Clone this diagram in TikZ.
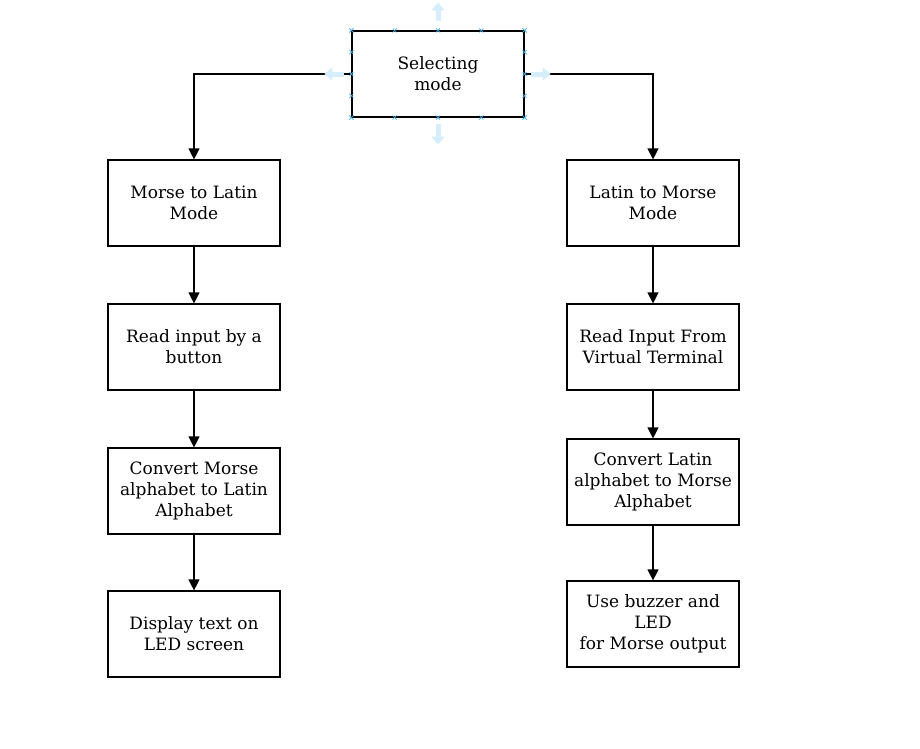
\documentclass[tikz,border=0pt]{standalone}
\usepackage{fontspec}
\setmainfont{DejaVu Serif}
\usetikzlibrary{arrows.meta,positioning,calc,shapes.misc}
\definecolor{ink}        {HTML}{000000}
\definecolor{handleblue} {HTML}{D6EDFC}
\definecolor{pointblue}  {HTML}{45AEE8}
\tikzset{
  stepbox/.style  ={draw=ink, fill=white, line width=1.2pt,
                    minimum width=172pt, minimum height=86pt,
                    align=center, inner sep=2pt,
                    font=\fontsize{17}{21}\selectfont},
  flowarr/.style  ={-{Triangle[length=11pt,width=11pt]}, line width=1.2pt, draw=ink},
  handlearr/.style={-{Triangle[length=8pt,width=13pt]}, line width=5pt, draw=handleblue},
  ptmark/.style   ={cross out, draw=pointblue, line width=0.6pt,
                    minimum size=3.5pt, inner sep=0pt},
}

\begin{document}
\begin{tikzpicture}[x=1pt,y=-1pt]
  \useasboundingbox (0,0) rectangle (920,748);

  % mode choice
  \node[stepbox] (sel) at (438,74) {Selecting\\mode};

  % morse -> latin branch
  \node[stepbox] (ml)   at (194,203) {Morse to Latin\\Mode};
  \node[stepbox] (mlin) at (194,347) {Read input by a\\button};
  \node[stepbox] (mlcv) at (194,491) {Convert Morse\\alphabet to Latin\\Alphabet};
  \node[stepbox] (mlout) at (194,634) {Display text on\\LED screen};

  % latin -> morse branch
  \node[stepbox] (lm)   at (653,203) {Latin to Morse\\Mode};
  \node[stepbox] (lmin) at (653,347) {Read Input From\\Virtual Terminal};
  \node[stepbox] (lmcv) at (653,482) {Convert Latin\\alphabet to Morse\\Alphabet};
  \node[stepbox] (lmout) at (653,624) {Use buzzer and\\LED\\for Morse output};

  \draw[flowarr] (sel.west) -| (ml.north);
  \draw[flowarr] (sel.east) -| (lm.north);
  \draw[flowarr] (ml) -- (mlin);
  \draw[flowarr] (mlin) -- (mlcv);
  \draw[flowarr] (mlcv) -- (mlout);
  \draw[flowarr] (lm) -- (lmin);
  \draw[flowarr] (lmin) -- (lmcv);
  \draw[flowarr] (lmcv) -- (lmout);

  % selection handles round the top box
  \draw[handlearr] ([yshift=9pt]sel.north) -- ([yshift=28pt]sel.north);
  \draw[handlearr] ([yshift=-6pt]sel.south) -- ([yshift=-27pt]sel.south);
  \draw[handlearr] ([xshift=-7pt]sel.west) -- ([xshift=-27pt]sel.west);
  \draw[handlearr] ([xshift=6pt]sel.east) -- ([xshift=26pt]sel.east);
  \foreach \t in {0,0.25,0.5,0.75,1} {
    \node[ptmark] at ($(sel.north west)!\t!(sel.north east)$) {};
    \node[ptmark] at ($(sel.south west)!\t!(sel.south east)$) {};
    \node[ptmark] at ($(sel.north west)!\t!(sel.south west)$) {};
    \node[ptmark] at ($(sel.north east)!\t!(sel.south east)$) {};
  }
\end{tikzpicture}
\end{document}
